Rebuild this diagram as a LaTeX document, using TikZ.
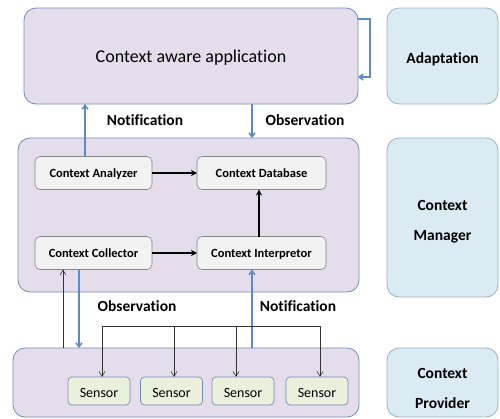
\documentclass[tikz,border=0pt]{standalone}
\usepackage{fontspec}
\setmainfont{Carlito}[Ligatures={NoCommon}]
\usetikzlibrary{arrows.meta}
\definecolor{lavf}{HTML}{E6DDEC}
\definecolor{lavb}{HTML}{6F8DB5}
\definecolor{sidef}{HTML}{DAEBF3}
\definecolor{sideb}{HTML}{9AB2C6}
\definecolor{grayf}{HTML}{F2F2F2}
\definecolor{grayb}{HTML}{858585}
\definecolor{sensf}{HTML}{EAF0DC}
\definecolor{bluel}{HTML}{5B8AC6}
\begin{document}
\begin{tikzpicture}[x=1pt,y=-1pt,
  every node/.style={inner sep=0pt,outer sep=0pt},
  lavbox/.style={draw=lavb,fill=lavf,rounded corners=12pt,line width=0.8pt},
  sidebox/.style={draw=sideb,fill=sidef,rounded corners=12pt,line width=0.8pt},
  sidetext/.style={align=center,font=\bfseries\fontsize{15.5}{29.5}\selectfont},
  innerbox/.style={draw=grayb,fill=grayf,rounded corners=5pt,line width=0.6pt,text depth=0pt,
     minimum width=117pt,minimum height=33pt,font=\bfseries\fontsize{12.5}{14}\selectfont},
  sensbox/.style={draw=lavb,fill=sensf,rounded corners=4pt,line width=0.7pt,text depth=0pt,text height=13pt,
     minimum width=62pt,minimum height=28pt,font=\fontsize{14}{16}\selectfont},
  lbl/.style={font=\bfseries\fontsize{15.5}{17}\selectfont},
  barrow/.style={draw=bluel,line width=1.5pt,-{Straight Barb[length=4pt,width=6pt]}},
  karrow/.style={draw=black,line width=1.6pt,-{Stealth[length=6pt,width=6pt]}},
  tarrow/.style={draw=black!80,line width=0.6pt,-{Straight Barb[length=5pt,width=6pt]}},
  tline/.style={draw=black!80,line width=0.6pt}]
\useasboundingbox (0,0) rectangle (500,418);
% big boxes
\node[lavbox,minimum width=334pt,minimum height=96pt,text depth=0pt,font=\fontsize{18}{20}\selectfont] (app) at (191,56) {Context aware application};
\node[sidebox,minimum width=111pt,minimum height=96pt] (adapt) at (442.5,56) {};
\node[sidetext] (adaptt) at ([yshift=-3pt]adapt.center) {Adaptation};
\node[lavbox,minimum width=341pt,minimum height=154pt] (mgr) at (188.5,215) {};
\node[sidebox,minimum width=111pt,minimum height=159pt] (cmgr) at (442.5,217.5) {};
\node[sidetext] (cmgrt) at ([yshift=-4pt]cmgr.center) {Context\\Manager};
\node[lavbox,minimum width=346pt,minimum height=69pt] (prov) at (186,382.5) {};
\node[sidebox,minimum width=111pt,minimum height=69pt] (cprov) at (442.5,382.5) {};
\node[sidetext] (cprovt) at ([yshift=-6pt]cprov.center) {Context\\Provider};
% inner boxes
\node[innerbox] (analyzer) at (93.5,173) {Context Analyzer};
\node[innerbox,minimum width=129pt] (database) at (261.5,173) {Context Database};
\node[innerbox] (collector) at (93.5,253) {Context Collector};
\node[innerbox,minimum width=129pt] (interp) at (261.5,253) {Context Interpretor};
% sensors
\node[sensbox] (s1) at (99,391) {Sensor};
\node[sensbox] (s2) at (171.5,391) {Sensor};
\node[sensbox] (s3) at (243,391) {Sensor};
\node[sensbox] (s4) at (317,391) {Sensor};
% labels
\node[lbl] (l1) at (145,120) {Notification};
\node[lbl] (l2) at (305,120) {Observation};
\node[lbl] (l3) at (137,306) {Observation};
\node[lbl] (l4) at (298,306) {Notification};
% blue arrows
\draw[barrow] ([xshift=50pt]analyzer.north west) -- ([xshift=50pt]analyzer.north west |- app.south);
\draw[barrow] ([xshift=228pt]app.south west) -- ([xshift=228pt]app.south west |- mgr.north);
\draw[barrow] ([yshift=-11pt]app.north east) -- ++(12,0) -- ++(0,58) -- ([yshift=-69pt]app.north east);
\draw[barrow] ([xshift=44pt]collector.south west) -- ([xshift=44pt]collector.south west |- prov.north);
\draw[barrow] ([xshift=55pt]interp.south west |- prov.north) -- ([xshift=55pt]interp.south west);
% black arrows
\draw[karrow] (analyzer.east) -- (database.west);
\draw[karrow] (collector.east) -- (interp.west);
\draw[karrow] ([xshift=-2.5pt]interp.north) -- ([xshift=-2.5pt]database.south);
% thin arrows
\draw[tarrow] ([xshift=50pt]prov.north west) -- ([xshift=50pt]prov.north west |- collector.south);
\coordinate (d1) at (102,326);
\coordinate (d2) at (174,326);
\coordinate (d3) at (236,326);
\coordinate (d4) at (320,326);
\draw[tline] (d1) -- (d4);
\draw[tarrow] (d1) -- (d1 |- s1.north);
\draw[tarrow] (d2) -- (d2 |- s2.north);
\draw[tarrow] (d3) -- (d3 |- s3.north);
\draw[tarrow] (d4) -- (d4 |- s4.north);
\end{tikzpicture}
\end{document}
